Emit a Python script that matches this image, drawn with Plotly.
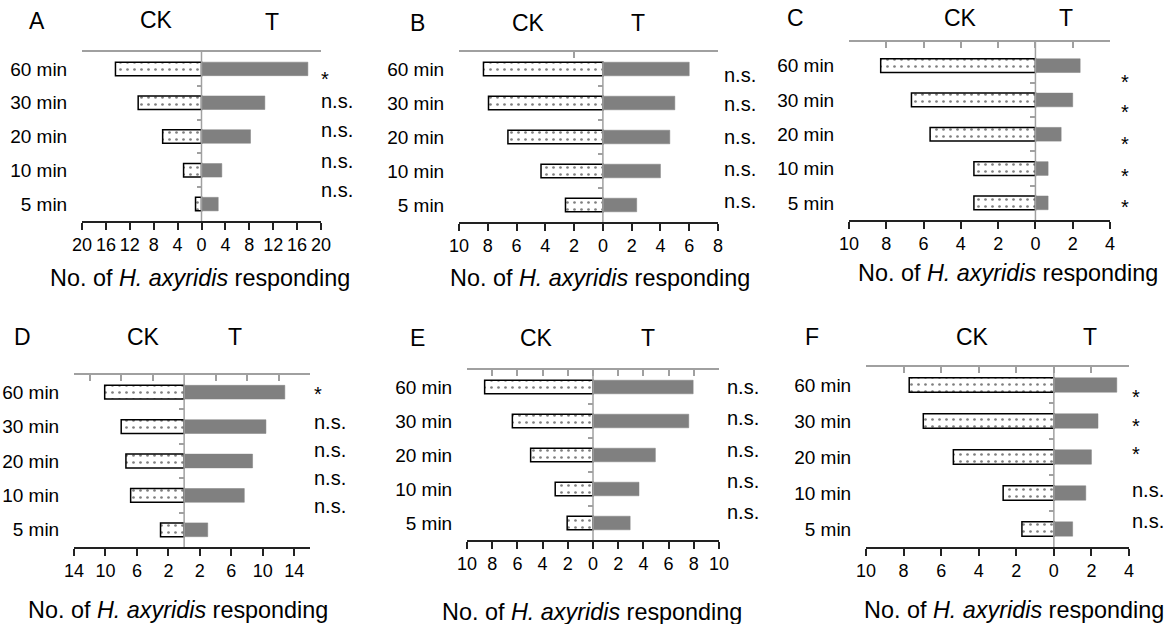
import plotly.graph_objects as go

W, H = 1168, 624
FONT = "Liberation Sans, Arial, sans-serif"

# ---------------- data (listed bottom -> top: 5, 10, 20, 30, 60 min) ----------------
categories = ["5 min", "10 min", "20 min", "30 min", "60 min"]
panel_names = ["A", "B", "C", "D", "E", "F"]

ck_A = [1.0, 3.0, 6.5, 10.6, 14.4]
t_A = [2.8, 3.4, 8.2, 10.6, 17.8]
sig_A = ["n.s.", "n.s.", "n.s.", "n.s.", "*"]

ck_B = [2.6, 4.3, 6.6, 7.95, 8.3]
t_B = [2.35, 4.0, 4.65, 5.0, 6.0]
sig_B = ["n.s.", "n.s.", "n.s.", "n.s.", "n.s."]

ck_C = [3.3, 3.3, 5.65, 6.65, 8.3]
t_C = [0.68, 0.68, 1.38, 2.0, 2.4]
sig_C = ["*", "*", "*", "*", "*"]

ck_D = [3.0, 6.8, 7.4, 8.0, 10.1]
t_D = [3.0, 7.65, 8.7, 10.4, 12.8]
sig_D = ["n.s.", "n.s.", "n.s.", "n.s.", "*"]

ck_E = [2.05, 3.0, 4.95, 6.4, 8.6]
t_E = [2.95, 3.65, 4.95, 7.6, 7.95]
sig_E = ["n.s.", "n.s.", "n.s.", "n.s.", "n.s."]

ck_F = [1.7, 2.7, 5.35, 6.95, 7.7]
t_F = [1.0, 1.7, 2.0, 2.35, 3.35]
sig_F = ["n.s.", "n.s.", "*", "*", "*"]

# tick values (labels shown as absolute values)
bottom_ticks_A = list(range(-20, 21, 4))
bottom_ticks_B = list(range(-10, 9, 2))
bottom_ticks_C = list(range(-10, 5, 2))
bottom_ticks_D = [-14, -10, -6, -2, 2, 6, 10, 14]
bottom_ticks_E = list(range(-10, 11, 2))
bottom_ticks_F = list(range(-10, 5, 2))

top_ticks_A = [-20, 20]
top_ticks_B = [-2, 8]
top_ticks_C = list(range(-10, 5, 2))
top_ticks_D = [-12, -8, -4, 4, 8, 12, 16]
top_ticks_E = list(range(-10, 11, 2))
top_ticks_F = list(range(-10, 5, 2))

x_ranges = [[-20, 20], [-10, 8], [-10, 4], [-14, 16], [-10, 10], [-10, 4]]
y_ranges = [[-0.5, 4.5], [-0.5, 4.5], [-0.5, 4.69], [-0.5, 4.5], [-0.5, 4.5], [-0.5, 4.5]]

ck_all = [ck_A, ck_B, ck_C, ck_D, ck_E, ck_F]
t_all = [t_A, t_B, t_C, t_D, t_E, t_F]
sig_all = [sig_A, sig_B, sig_C, sig_D, sig_E, sig_F]
bottom_all = [bottom_ticks_A, bottom_ticks_B, bottom_ticks_C, bottom_ticks_D, bottom_ticks_E, bottom_ticks_F]
top_all = [top_ticks_A, top_ticks_B, top_ticks_C, top_ticks_D, top_ticks_E, top_ticks_F]

# ---------------- layout / styling (pixel coordinates) ----------------
# plot boxes: (left, right, top, bottom)
boxes = [(82, 321, 52, 221), (459, 718, 52, 222), (849, 1110, 42, 220),
         (74, 310, 375, 547), (467, 719, 370, 540), (866, 1129, 367, 547)]
zero_tops = [4.5, 4.2, 4.69, 4.5, 4.5, 4.5]
letter_pos = [(37, 21), (417, 23), (795, 18), (22, 337), (417, 338), (812, 337)]
ck_pos = [(156, 20), (528, 23), (960, 18), (143, 337), (536, 338), (972, 337)]
t_pos = [(272, 22), (638, 23), (1066, 18), (235, 337), (648, 338), (1090, 337)]
title_pos = [(200, 278), (600, 278), (1008, 273), (178, 610), (592, 612), (1014, 610)]
sig_x = [319, 722, 1119, 312, 725, 1130]
sig_off = [[-12, -7, -5, 0, 6], [-2, 0, 2, 3, 8], [0, 3.5, 6, 8, 12],
           [-22, -15, -9, -3, -2], [-9, -6, -3, -1, 2], [-6, -1, -7, 1, 8]]

GRAY_AX = "#a0a0a0"
BAR_GRAY = "#808080"


def px(x):
    return x / W


def py(y):
    return 1 - y / H


fig = go.Figure()
annotations = []
shapes = []
layout = {}


def add_text(txt, pos, size, **kw):
    annotations.append(dict(text=txt, x=px(pos[0]), y=py(pos[1]), xref="paper", yref="paper",
                            xanchor="center", yanchor="middle", showarrow=False,
                            font=dict(family=FONT, size=size, color="black"), **kw))


for i in range(6):
    xm, xt = 2 * i + 1, 2 * i + 2
    ym, yt = 2 * i + 1, 2 * i + 2
    xm_ref = "x" if xm == 1 else f"x{xm}"
    ym_ref = "y" if ym == 1 else f"y{ym}"
    xm_key = "xaxis" if xm == 1 else f"xaxis{xm}"
    ym_key = "yaxis" if ym == 1 else f"yaxis{ym}"
    l, r, t, b = boxes[i]
    xr, yr = x_ranges[i], y_ranges[i]

    fig.add_trace(go.Bar(
        y=categories, x=[-v for v in ck_all[i]], orientation="h", width=0.4,
        xaxis=xm_ref, yaxis=ym_ref, showlegend=False, name="CK",
        marker=dict(color="white", line=dict(color="black", width=1.5),
                    pattern=dict(shape=".", fgcolor="black", bgcolor="white",
                                 size=7, solidity=0.12)),
        customdata=ck_all[i], hovertemplate="CK %{y}: %{customdata}<extra></extra>",
    ))
    fig.add_trace(go.Bar(
        y=categories, x=t_all[i], orientation="h", width=0.4,
        xaxis=xm_ref, yaxis=ym_ref, showlegend=False, name="T",
        marker=dict(color=BAR_GRAY, line=dict(color=BAR_GRAY, width=0.5)),
        hovertemplate="T %{y}: %{x}<extra></extra>",
    ))
    # invisible trace to instantiate the overlay axes
    fig.add_trace(go.Scatter(x=[xr[0]], y=[yr[0]], xaxis=f"x{xt}", yaxis=f"y{yt}",
                             mode="markers", marker=dict(opacity=0), showlegend=False,
                             hoverinfo="skip"))

    bt = bottom_all[i]
    layout[xm_key] = dict(
        domain=[px(l), px(r)], range=xr, anchor=ym_ref, showgrid=False, zeroline=False,
        tickmode="array", tickvals=bt, ticktext=[str(abs(v)) for v in bt],
        ticks="outside", ticklen=7, tickwidth=1.5, tickcolor="#222",
        showline=True, linecolor="#222", linewidth=1.5, automargin=False,
        tickfont=dict(family=FONT, size=18, color="black"), fixedrange=True,
    )
    layout[f"xaxis{xt}"] = dict(
        overlaying=xm_ref, side="top", anchor=ym_ref, range=xr, showgrid=False, zeroline=False,
        tickmode="array", tickvals=top_all[i], showticklabels=False, automargin=False,
        ticks="inside", ticklen=6, tickwidth=1.5, tickcolor=GRAY_AX,
        showline=True, linecolor=GRAY_AX, linewidth=1.5, fixedrange=True,
    )
    layout[ym_key] = dict(
        domain=[py(b), py(t)], range=yr, anchor=xm_ref, type="category",
        categoryorder="array", categoryarray=categories, automargin=False,
        showgrid=False, zeroline=False, showline=False,
        ticks="outside", ticklen=10, tickcolor="rgba(0,0,0,0)",
        tickfont=dict(family=FONT, size=19, color="black"), fixedrange=True,
    )
    zero_frac = px(l) + (0 - xr[0]) / (xr[1] - xr[0]) * (px(r) - px(l))
    layout[f"yaxis{yt}"] = dict(
        overlaying=ym_ref, anchor="free", position=zero_frac, side="left", range=yr,
        showgrid=False, zeroline=False, showline=False, showticklabels=False,
        tickmode="array", tickvals=[0.5, 1.5, 2.5, 3.5], automargin=False,
        ticks="outside", ticklen=5, tickwidth=1.5, tickcolor=GRAY_AX, fixedrange=True,
    )

    # zero (centre) line
    shapes.append(dict(type="line", xref=xm_ref, yref=ym_ref, x0=0, x1=0,
                       y0=yr[0], y1=zero_tops[i], line=dict(color=GRAY_AX, width=1.5),
                       layer="above"))

    add_text(panel_names[i], letter_pos[i], 23)
    add_text("CK", ck_pos[i], 23)
    add_text("T", t_pos[i], 23)
    add_text("No. of <i>H. axyridis</i> responding", title_pos[i], 23.4)
    for j, s in enumerate(sig_all[i]):
        corr = 4 if s == "*" else -2
        annotations.append(dict(text=s, x=px(sig_x[i]), xanchor="left", xref="paper",
                                y=categories[j], yref=ym_ref, yanchor="middle",
                                yshift=-(sig_off[i][j] + corr), showarrow=False,
                                font=dict(family=FONT, size=20, color="black")))

fig.update_layout(
    width=W, height=H, margin=dict(l=0, r=0, t=0, b=0, pad=0, autoexpand=False),
    paper_bgcolor="white", plot_bgcolor="white",
    barmode="overlay", bargap=0.6, hovermode="closest",
    annotations=annotations, shapes=shapes,
    **layout,
)

# remove the default 8px page margin so the figure sits at the window origin
fig.write_html("out.html", config={"displayModeBar": False},
               post_script="document.body.style.margin='0';document.body.style.overflow='hidden';")
